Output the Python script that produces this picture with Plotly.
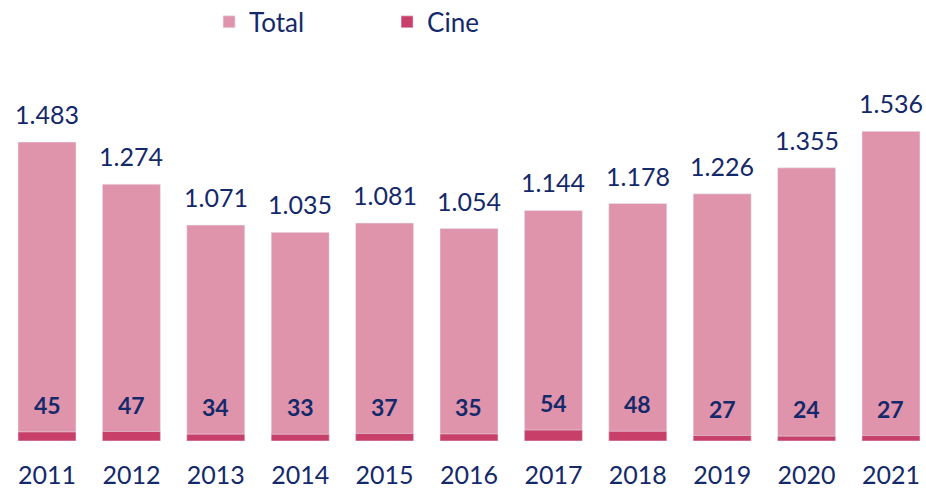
import plotly.graph_objects as go

years = ["2011", "2012", "2013", "2014", "2015", "2016", "2017", "2018", "2019", "2020", "2021"]
total = [1483, 1274, 1071, 1035, 1081, 1054, 1144, 1178, 1226, 1355, 1536]
cine = [45, 47, 34, 33, 37, 35, 54, 48, 27, 24, 27]
total_labels = ["1.483", "1.274", "1.071", "1.035", "1.081", "1.054", "1.144", "1.178", "1.226", "1.355", "1.536"]

PINK = "#E094AB"
RED = "#C8406A"
NAVY = "#14296A"
FONT = "Lato, Open Sans, sans-serif"

fig = go.Figure()
fig.add_trace(go.Bar(x=years, y=total, name="Total", marker_color=PINK, width=0.687))
fig.add_trace(go.Bar(x=years, y=cine, name="Cine", marker_color=RED, width=0.687))

for i, (v, lab) in enumerate(zip(total, total_labels)):
    fig.add_annotation(x=i, y=v, text=lab, showarrow=False, yanchor="bottom", yshift=11,
                       font=dict(family=FONT, size=25, color=NAVY))
for i, v in enumerate(cine):
    fig.add_annotation(x=i, y=v, text=f"<b>{v}</b>", showarrow=False, yanchor="bottom", yshift=11,
                       font=dict(family=FONT, size=23, color=NAVY))

fig.update_layout(
    width=926, height=488,
    margin=dict(l=0, r=0, t=60, b=47),
    barmode="overlay",
    plot_bgcolor="white", paper_bgcolor="white",
    font=dict(family=FONT, color=NAVY),
    showlegend=True,
    legend=dict(orientation="h", xref="container", yref="container", x=0.418, y=0.955,
                xanchor="center", yanchor="middle", font=dict(size=26, color=NAVY),
                entrywidth=133, entrywidthmode="pixels", traceorder="normal"),
    xaxis=dict(type="category", range=[-0.557, 10.415], showgrid=False, showline=False, zeroline=False,
               automargin=False, tickfont=dict(size=25, color=NAVY), ticklabelstandoff=17),
    yaxis=dict(range=[0, 1890], visible=False, automargin=False),
)
fig.write_html("out.html", config={"displayModeBar": False},
               post_script="document.body.style.margin='0';document.body.style.overflow='hidden';")
